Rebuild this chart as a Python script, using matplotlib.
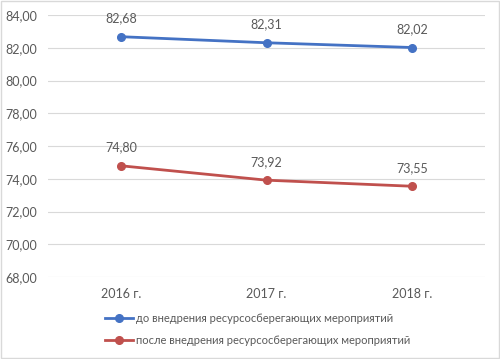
import matplotlib.pyplot as plt
from matplotlib.patches import Rectangle

years = ['2016 г.', '2017 г.', '2018 г.']
before = [82.68, 82.31, 82.02]
after = [74.80, 73.92, 73.55]
label_before = 'до внедрения ресурсосберегающих мероприятий'
label_after = 'после внедрения ресурсосберегающих мероприятий'

plt.rcParams['font.family'] = ['Lato', 'DejaVu Sans']
txt = '#595959'

fig = plt.figure(figsize=(5, 3.59), dpi=100)
ax = fig.add_axes([0.096, 0.228, 0.874, 0.730])

x = range(len(years))
ax.plot(x, before, color='#4472C4', lw=2, marker='o', ms=5.5, label=label_before)
ax.plot(x, after, color='#C0504D', lw=2, marker='o', ms=5.5, label=label_after)

for xi, v in zip(x, before):
    ax.annotate(f'{v:.2f}'.replace('.', ','), (xi, v), xytext=(0, 9), textcoords='offset points',
                ha='center', va='bottom', fontsize=9, color=txt)
for xi, v in zip(x, after):
    ax.annotate(f'{v:.2f}'.replace('.', ','), (xi, v), xytext=(0, 9), textcoords='offset points',
                ha='center', va='bottom', fontsize=9, color=txt)

ax.set_xlim(-0.5, 2.5)
ax.set_ylim(68, 84)
ax.set_yticks(range(68, 85, 2))
ax.set_yticklabels([f'{t:.2f}'.replace('.', ',') for t in range(68, 85, 2)])
ax.set_xticks(list(x))
ax.set_xticklabels(years)
ax.grid(axis='y', color='#D9D9D9', lw=0.8)
ax.set_axisbelow(True)
for s in ax.spines.values():
    s.set_visible(False)
ax.tick_params(length=0, labelsize=9, colors=txt, pad=8)
ax.tick_params(axis='y', pad=8)

fig.legend(loc='upper left', bbox_to_anchor=(0.198, 0.145), frameon=False, fontsize=8,
           handlelength=2.6, labelspacing=1.05, handletextpad=0.2, borderpad=0,
           labelcolor=txt)

fig.patches.append(Rectangle((0.002, 0.003), 0.995, 0.994, transform=fig.transFigure,
                             fill=False, ec='#D9D9D9', lw=1))

fig.savefig('out.png', dpi=100)
